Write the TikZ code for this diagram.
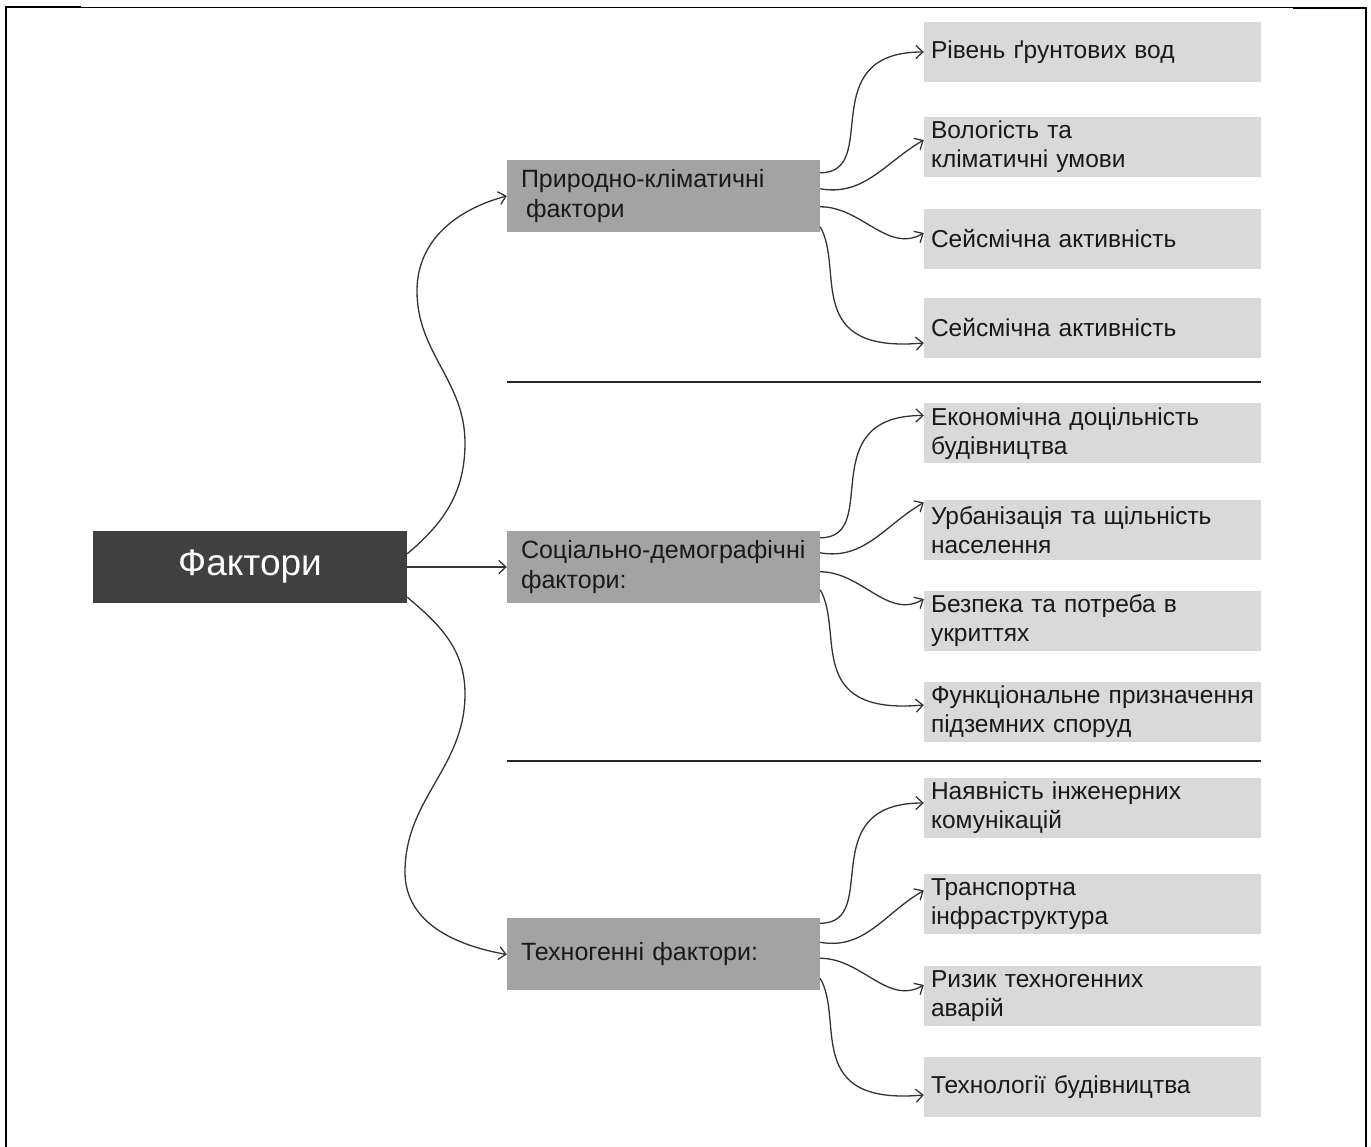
\documentclass[tikz,border=0pt]{standalone}
\usepackage{fontspec}
\setmainfont{Liberation Sans}
\usetikzlibrary{arrows.meta,calc}
\definecolor{facdark}{HTML}{404040}
\definecolor{groupgray}{HTML}{A3A3A3}
\definecolor{itemgray}{HTML}{D9D9D9}
\definecolor{linkgray}{HTML}{333333}
\exhyphenpenalty=10000 \hyphenpenalty=10000
\begin{document}
\begin{tikzpicture}[x=1pt,y=1pt,
  >={Straight Barb[length=7pt,width=13pt]},
  mainbox/.style={fill=facdark, text=white, minimum width=314pt, minimum height=72pt, font=\fontsize{37}{40}\selectfont},
  groupbox/.style={fill=groupgray, text=black!90, minimum height=72pt, inner xsep=14pt, text width=285pt, align=left, font=\fontsize{25}{30}\selectfont},
  itembox/.style={fill=itemgray, text=black!90, minimum height=60pt, inner xsep=7pt, text width=323pt, align=left, font=\fontsize{24.5}{29}\selectfont},
  link/.style={->, draw=linkgray, line width=1.3pt},
  rise/.style={out=0, in=180, out looseness=1, in looseness=1.8},
  fall/.style={out=-60, in=185, out looseness=0.8, in looseness=2},
  sepline/.style={line width=1.4pt, black!85}]
  \useasboundingbox (0,0) rectangle (1371,1147);
  \draw[line width=0.8pt] (6,1140) -- (1366,1140);
  \draw[line width=2pt] (6,0) -- (6,1140) -- (81,1140);
  \draw[line width=2pt] (1293,1139) -- (1366,1139) -- (1366,0);

  \node[mainbox] (fak) at (250,580) {Фактори};
  \node[groupbox] (nat) at (663.5,951) {Природно-кліматичні\\\hspace*{5pt}фактори};
  \node[groupbox] (soc) at (663.5,580) {Соціально-демографічні\\фактори:};
  \node[groupbox] (tech) at (663.5,192.5) {Техногенні фактори:};

  \node[itembox] (n1) at (1092.5,1095) {Рівень ґрунтових вод};
  \node[itembox] (n2) at (1092.5,1000) {Вологість та\\кліматичні умови};
  \node[itembox] (n3) at (1092.5,908) {Сейсмічна активність};
  \node[itembox] (n4) at (1092.5,819) {Сейсмічна активність};
  \node[itembox] (s1) at (1092.5,713.5) {Економічна доцільність\\будівництва};
  \node[itembox] (s2) at (1092.5,616.5) {Урбанізація та щільність\\населення};
  \node[itembox] (s3) at (1092.5,526) {Безпека та потреба в\\укриттях};
  \node[itembox] (s4) at (1092.5,435) {Функціональне призначення\\підземних споруд};
  \node[itembox] (t1) at (1092.5,339) {Наявність інженерних\\комунікацій};
  \node[itembox] (t2) at (1092.5,242.5) {Транспортна\\інфраструктура};
  \node[itembox] (t3) at (1092.5,151) {Ризик техногенних\\аварій};
  \node[itembox] (t4) at (1092.5,60) {Технології будівництва};

  \draw[sepline] (507,765) -- (1261,765);
  \draw[sepline] (507,386) -- (1261,386);

  \coordinate (up1) at (465,704);
  \coordinate (up2) at (417,856);
  \coordinate (dn1) at (465,453);
  \coordinate (dn2) at (405,275);
  \draw[link] ($(fak.north east)+(0,-23)$) to[out=40,in=-90] (up1) to[out=90,in=-90] (up2) to[out=90,in=195] (nat.west);
  \draw[link] (fak.east) -- (soc.west);
  \draw[link] ($(fak.south east)+(0,6)$) to[out=-40,in=90] (dn1) to[out=-90,in=90] (dn2) to[out=-90,in=170] (tech.west);

  \draw[link] ($(nat.north east)+(0,-13)$) to[rise] (n1.west);
  \draw[link] ($(nat.north east)+(0,-29)$) to[out=-10,in=210] ($(n2.west)+(0,7)$);
  \draw[link] ($(nat.north east)+(0,-47)$) to[out=0,in=210] ($(n3.west)+(0,6)$);
  \draw[link] ($(nat.north east)+(0,-67)$) to[fall] ($(n4.west)+(0,-15)$);

  \draw[link] ($(soc.north east)+(0,-7)$) to[rise] ($(s1.west)+(0,18)$);
  \draw[link] ($(soc.north east)+(0,-22)$) to[out=-10,in=210] ($(s2.west)+(0,28)$);
  \draw[link] ($(soc.north east)+(0,-41)$) to[out=0,in=210] ($(s3.west)+(0,22)$);
  \draw[link] ($(soc.north east)+(0,-59)$) to[fall] ($(s4.west)+(0,7)$);

  \draw[link] ($(tech.north east)+(0,-5)$) to[rise] ($(t1.west)+(0,5)$);
  \draw[link] ($(tech.north east)+(0,-24)$) to[out=-10,in=210] ($(t2.west)+(0,14)$);
  \draw[link] ($(tech.north east)+(0,-40)$) to[out=0,in=210] ($(t3.west)+(0,11)$);
  \draw[link] ($(tech.north east)+(0,-60)$) to[fall] ($(t4.west)+(0,-8)$);
\end{tikzpicture}
\end{document}
